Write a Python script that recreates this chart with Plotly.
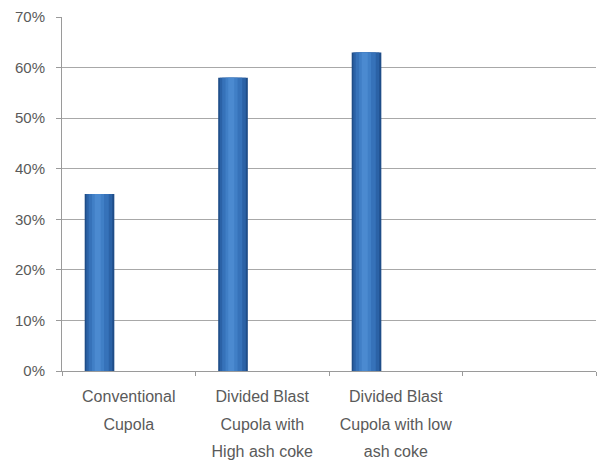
import plotly.graph_objects as go

categories = ["Conventional Cupola",
              "Divided Blast Cupola with High ash coke",
              "Divided Blast Cupola with low ash coke",
              " "]
tick_text = ["Conventional<br>Cupola",
             "Divided Blast<br>Cupola with<br>High ash coke",
             "Divided Blast<br>Cupola with low<br>ash coke",
             ""]
values = [0.35, 0.58, 0.63, None]
y_ticks = [0, 0.1, 0.2, 0.3, 0.4, 0.5, 0.6, 0.7]

# layered bars to imitate the cylinder-like shading
layers = [
    (-0.330, 0.222, "#1f4d88"),
    (-0.318, 0.195, "#2b62a6"),
    (-0.300, 0.150, "#3672b9"),
    (-0.275, 0.090, "#407fc6"),
    (-0.255, 0.045, "#4b8ad0"),
]

fig = go.Figure()
for off, w, col in layers:
    fig.add_trace(go.Bar(x=categories, y=values, offset=off, width=w,
                         marker=dict(color=col, line=dict(width=0)),
                         showlegend=False, hoverinfo="skip"))

span = lambda s: "<br>".join(f'<span style="font-size:16px">{p}</span>' for p in s.split("<br>")) if s else ""

fig.update_layout(
    width=598, height=468, autosize=False,
    margin=dict(l=62, r=2, t=17, b=97),
    paper_bgcolor="white", plot_bgcolor="white",
    barmode="overlay",
    font=dict(family="Liberation Sans, Arial, sans-serif", color="#5a5a5a"),
    xaxis=dict(type="category", categoryorder="array", categoryarray=categories,
               tickmode="array", tickvals=categories, ticktext=[span(t) for t in tick_text],
               range=[-0.5, 3.5], tickson="boundaries", ticks="outside", ticklen=4,
               tickcolor="#9a9a9a", showline=True, linecolor="#9a9a9a", linewidth=1,
               showgrid=False, ticklabelstandoff=5,
               tickfont=dict(size=21, color="#5a5a5a")),
    yaxis=dict(range=[0, 0.7], tickvals=y_ticks, tickformat=".0%",
               ticks="outside", ticklen=5, tickcolor="#9a9a9a",
               showline=True, linecolor="#9a9a9a", linewidth=1,
               showgrid=True, gridcolor="#a8a8a8", gridwidth=1, zeroline=False,
               ticklabelstandoff=8, tickfont=dict(size=15, color="#5a5a5a")),
)

fig.write_html("out.html")
